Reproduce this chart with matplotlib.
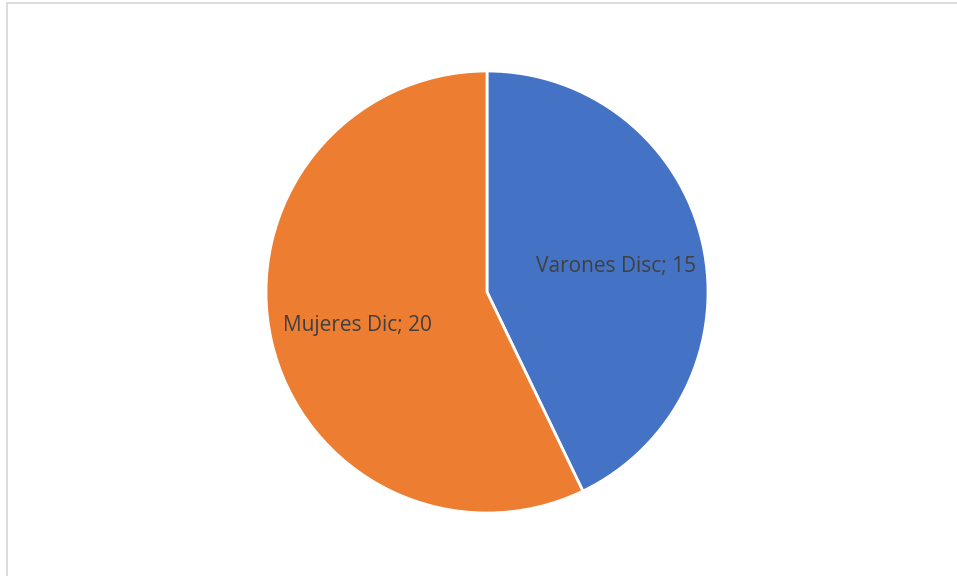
import matplotlib
matplotlib.use('Agg')
import matplotlib.pyplot as plt
import matplotlib.transforms as mtransforms
from matplotlib.patches import Rectangle

# data
labels = ['Varones Disc', 'Mujeres Dic']
values = [15, 20]
colors = ['#4472C4', '#ED7D31']

W, H = 957, 576
fig = plt.figure(figsize=(W / 100, H / 100), dpi=100)
fig.patch.set_facecolor('white')

# chart area border (light gray, open to the right/bottom)
fig.patches.append(Rectangle((6.5 / W, -0.05), 1.2, (H - 3.5) / H + 0.05,
                             transform=fig.transFigure, fill=False,
                             edgecolor='#d9d9d9', linewidth=1.3))

# pie centre (487, 292) px, radius 221 px
cx, cy, r = 487, 292, 221
ax = fig.add_axes([(cx - r) / W, (H - cy - r) / H, 2 * r / W, 2 * r / H])

wedges, texts = ax.pie(values, colors=colors, startangle=90, counterclock=False,
                       labels=[f'{l}; {v}' for l, v in zip(labels, values)],
                       labeldistance=0.6,
                       wedgeprops=dict(edgecolor='white', linewidth=2))
shift = mtransforms.offset_copy(ax.transData, fig=fig, x=0, y=-4, units='dots')
for t in texts:
    t.set_ha('center')
    t.set_va('center')
    t.set_color('#404040')
    t.set_fontsize(15)
    t.set_family(['Open Sans', 'DejaVu Sans'])
    t.set_transform(shift)
ax.set_xlim(-1, 1)
ax.set_ylim(-1, 1)
ax.axis('off')

fig.savefig('out.png', dpi=100, facecolor='white')
